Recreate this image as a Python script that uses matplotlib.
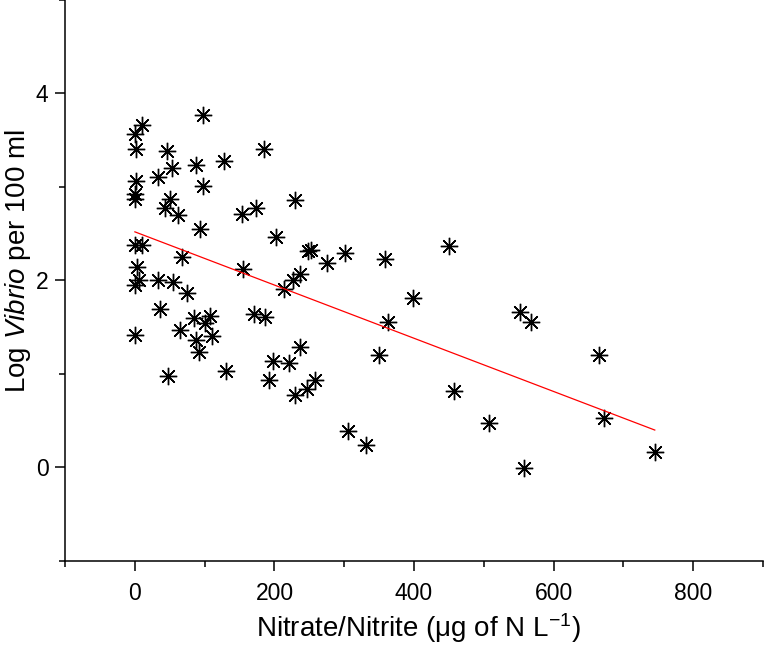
import matplotlib
matplotlib.use('Agg')
import matplotlib.pyplot as plt
from matplotlib.ticker import MultipleLocator

plt.rcParams['font.family'] = ['Liberation Sans', 'DejaVu Sans']
plt.rcParams['mathtext.fontset'] = 'custom'
plt.rcParams['mathtext.rm'] = 'Liberation Sans'
plt.rcParams['mathtext.it'] = 'Liberation Sans:italic'

# Nitrate/Nitrite (ug of N per L) vs log Vibrio per 100 ml
nitrate = [0, 10.5, 97.5, 1, 46, 185, 127, 88, 53.5, 33,
           1, 98, 0, 0, 50, 230, 42.5, 174, 153, 61.6,
           93, 202, 0, 10.5, 248, 253, 450, 275, 301, 359,
           68, 155, 2.4, 236, 227, 6, 0, 33, 54, 75,
           214, 399, 36, 171, 187, 108, 85, 100, 363, 552,
           567, 64.5, 0, 110, 88, 92, 237, 350, 665, 198,
           221, 131, 48, 192, 258, 247, 229, 457, 507, 672,
           306, 331, 746, 557]
log_vibrio = [3.57, 3.66, 3.77, 3.41, 3.38, 3.41, 3.28, 3.24, 3.20, 3.11,
              3.06, 3.01, 2.92, 2.87, 2.87, 2.86, 2.78, 2.77, 2.71, 2.70,
              2.55, 2.47, 2.38, 2.38, 2.31, 2.33, 2.37, 2.19, 2.29, 2.23,
              2.25, 2.12, 2.14, 2.07, 2.01, 2.01, 1.95, 2.00, 1.98, 1.87,
              1.91, 1.81, 1.69, 1.64, 1.61, 1.62, 1.60, 1.55, 1.56, 1.66,
              1.56, 1.47, 1.42, 1.41, 1.36, 1.24, 1.29, 1.20, 1.20, 1.14,
              1.12, 1.03, 0.98, 0.93, 0.94, 0.84, 0.77, 0.82, 0.47, 0.53,
              0.39, 0.24, 0.17, -0.01]

# Linear fit line end points
fit_x = [0, 745]
fit_y = [2.52, 0.40]

fig = plt.figure(figsize=(7.66, 6.53), dpi=100)
ax = fig.add_axes([0.085, 0.141, 0.911, 0.859])

ax.plot(nitrate, log_vibrio, linestyle='none', marker=(8, 2, 0),
        markersize=12.5, markeredgewidth=1.0, color='black')
ax.plot(fit_x, fit_y, color='red', linewidth=0.9)

ax.set_xlim(-100, 900)
ax.set_ylim(-1, 5)
ax.xaxis.set_major_locator(MultipleLocator(200))
ax.xaxis.set_minor_locator(MultipleLocator(100))
ax.yaxis.set_major_locator(MultipleLocator(2))
ax.yaxis.set_minor_locator(MultipleLocator(1))

# Remove top and right spines
ax.spines['top'].set_visible(False)
ax.spines['right'].set_visible(False)
for s in ['left', 'bottom']:
    ax.spines[s].set_linewidth(1.1)

ax.tick_params(which='major', length=7, width=1.1, labelsize=16.5)
ax.tick_params(which='minor', length=4.5, width=1.1)
ax.tick_params(axis='x', which='major', pad=8)
ax.tick_params(axis='y', which='major', pad=5)

ax.set_xlabel('Nitrate/Nitrite (\u03bcg of N L$^{-1}$)', fontsize=20, labelpad=12)
ax.xaxis.set_label_coords(0.506, -0.09)
ax.set_ylabel('Log $\\mathit{Vibrio}$ per 100 ml', fontsize=20)
ax.yaxis.set_label_coords(-0.046, 0.534)

fig.savefig('out.png', dpi=100)
